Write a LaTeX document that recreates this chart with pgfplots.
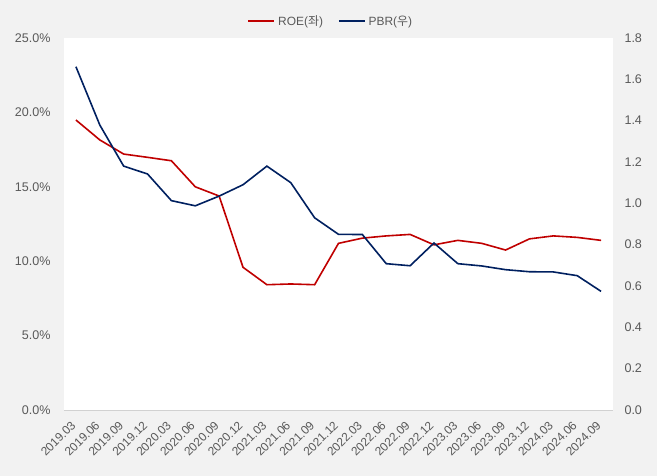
\documentclass[border=0pt]{standalone}
\usepackage{fontspec}
\setmainfont{Liberation Sans}
\newfontfamily\kr{Noto Sans CJK KR}
\usepackage{pgfplots}
\pgfplotsset{compat=1.18}
\definecolor{roe}{HTML}{C00000}
\definecolor{pbr}{HTML}{002060}
\definecolor{bg}{HTML}{F2F2F2}
\definecolor{lbl}{HTML}{595959}
\begin{document}
\begin{tikzpicture}
\fill[bg] (-64bp,-66bp) rectangle (593bp,410bp);
\useasboundingbox (-64bp,-66bp) rectangle (593bp,410bp);
\pgfplotsset{common/.style={width=549bp,height=372bp,scale only axis,
  xmin=-0.5,xmax=22.5, major tick length=0pt,
  tick label style={font=\fontsize{12.6}{14}\selectfont, text=lbl},
  /pgf/number format/assume math mode=true}}
\begin{axis}[common, axis background/.style={fill=white},
  ymin=0,ymax=25, ytick={0,5,10,15,20,25},
  yticklabel={\pgfmathprintnumber[fixed,fixed zerofill,precision=1]{\tick}\%},
  yticklabel style={xshift=-10bp},
  axis y line*=left, axis x line*=bottom,
  y axis line style={draw=none}, x axis line style={draw=black!18,-},
  xtick={0,...,22},
  xticklabels={2019.03,2019.06,2019.09,2019.12,2020.03,2020.06,2020.09,2020.12,2021.03,2021.06,2021.09,2021.12,2022.03,2022.06,2022.09,2022.12,2023.03,2023.06,2023.09,2023.12,2024.03,2024.06,2024.09},
  xticklabel style={rotate=45,anchor=east,font=\fontsize{12}{14}\selectfont}, xticklabel shift=11bp]
\addplot[roe, line width=1.6bp] coordinates {
(0,19.49) (1,18.15) (2,17.2) (3,16.98) (4,16.75) (5,15.0) (6,14.38) (7,9.59)
(8,8.42) (9,8.47) (10,8.42) (11,11.2) (12,11.55) (13,11.7) (14,11.8) (15,11.1)
(16,11.4) (17,11.2) (18,10.75) (19,11.5) (20,11.7) (21,11.6) (22,11.4)};
\end{axis}
\begin{axis}[common,
  ymin=0,ymax=1.8, ytick={0,0.2,0.4,0.6,0.8,1.0,1.2,1.4,1.6,1.8},
  yticklabel style={xshift=8bp, /pgf/number format/.cd,fixed,fixed zerofill,precision=1},
  axis y line*=right, axis x line=none, y axis line style={draw=none},
  legend style={at={(axis description cs:0.487,1.045)}, anchor=center, draw=none, fill=none,
    font=\fontsize{12}{14}\selectfont, text=lbl, inner sep=0pt,
    nodes={inner xsep=3bp},
    /tikz/every even column/.append style={column sep=12bp}},
  legend columns=2,
  legend image code/.code={\draw[#1] (0bp,0bp) -- (26bp,0bp);}]
\addlegendimage{roe, line width=1.6bp}
\addlegendentry{ROE({\kr 좌})}
\addplot[pbr, line width=1.6bp] coordinates {
(0,1.661) (1,1.379) (2,1.18) (3,1.142) (4,1.013) (5,0.988) (6,1.035) (7,1.09)
(8,1.18) (9,1.10) (10,0.93) (11,0.85) (12,0.849) (13,0.708) (14,0.698) (15,0.808)
(16,0.708) (17,0.697) (18,0.679) (19,0.669) (20,0.668) (21,0.65) (22,0.574)};
\addlegendentry{PBR({\kr 우})}
\end{axis}
\end{tikzpicture}
\end{document}
